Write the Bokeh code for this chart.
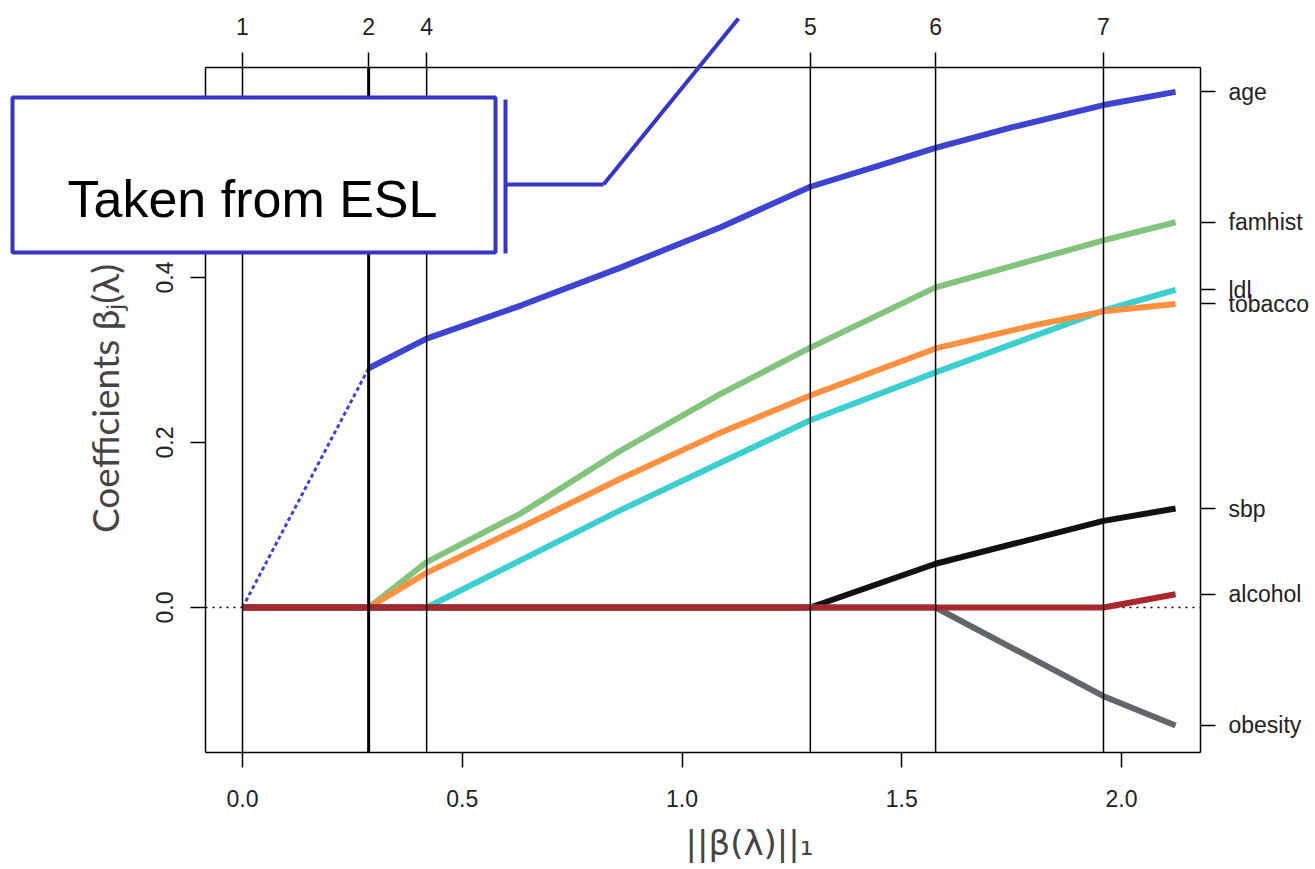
import math
from bokeh.plotting import figure
from bokeh.models import (Range1d, LinearAxis, FixedTicker, BoxAnnotation,
                          Label, Arrow, NumeralTickFormatter, ColumnDataSource)
from bokeh.embed import file_html
from bokeh.resources import INLINE

# ---------------- data ----------------
knots = [0.0, 0.287, 0.419, 1.292, 1.577, 1.959]
knot_labels = ["1", "2", "4", "5", "6", "7"]
x_ticks = [0.0, 0.5, 1.0, 1.5, 2.0]
y_ticks = [0.0, 0.2, 0.4, 0.6]

age_x = [0.0, 0.287, 0.419, 0.633, 0.860, 1.088, 1.292, 1.45, 1.577, 1.75, 1.959, 2.123]
age_y = [0.0, 0.290, 0.326, 0.366, 0.412, 0.461, 0.510, 0.536, 0.557, 0.582, 0.609, 0.625]

famhist_x = [0.0, 0.287, 0.419, 0.633, 0.860, 1.088, 1.292, 1.577, 1.959, 2.123]
famhist_y = [0.0, 0.0, 0.055, 0.114, 0.190, 0.259, 0.315, 0.388, 0.445, 0.467]

ldl_x = [0.0, 0.419, 0.860, 1.292, 1.577, 1.959, 2.123]
ldl_y = [0.0, 0.0, 0.118, 0.227, 0.285, 0.360, 0.385]

tobacco_x = [0.0, 0.287, 0.419, 0.633, 0.860, 1.088, 1.292, 1.577, 1.8, 1.959, 2.123]
tobacco_y = [0.0, 0.0, 0.042, 0.097, 0.156, 0.212, 0.257, 0.314, 0.342, 0.359, 0.368]

sbp_x = [0.0, 1.292, 1.577, 1.959, 2.123]
sbp_y = [0.0, 0.0, 0.053, 0.105, 0.120]

obesity_x = [0.0, 1.577, 1.959, 2.123]
obesity_y = [0.0, 0.0, -0.1075, -0.143]

alcohol_x = [0.0, 1.959, 2.123]
alcohol_y = [0.0, 0.0, 0.016]

names = ["age", "famhist", "ldl", "tobacco", "sbp", "obesity", "alcohol"]
colors = ["#3d44d1", "#82c47c", "#3ccfcf", "#ff9040", "#111111", "#62666a", "#a8282d"]
xs = [age_x, famhist_x, ldl_x, tobacco_x, sbp_x, obesity_x, alcohol_x]
ys = [age_y, famhist_y, ldl_y, tobacco_y, sbp_y, obesity_y, alcohol_y]

# ---------------- layout ----------------
W, H = 1315, 869
BOX_L, BOX_R, BOX_T, BOX_B = 205, 1200, 67, 752   # plot box in page pixels
X_PX0, X_PX_PER = 242.0, 439.5                    # pixel of x=0, pixels per unit
Y_PX0, Y_PX_PER = 607.0, 825.0                    # pixel of y=0, pixels per unit


def px2x(px):
    return (px - X_PX0) / X_PX_PER


def py2y(py):
    return (Y_PX0 - py) / Y_PX_PER


xl, xr = px2x(BOX_L), px2x(BOX_R)
yb, yt = py2y(BOX_B), py2y(BOX_T)

# the frame covers the whole page; axes are pinned to the plot box
p = figure(width=W, height=H,
           x_range=Range1d(px2x(0), px2x(W)),
           y_range=Range1d(py2y(H), py2y(0)),
           output_backend="svg", toolbar_location=None, min_border=0)
p.title.visible = False
p.xgrid.visible = False
p.ygrid.visible = False
p.outline_line_color = None
p.background_fill_color = "white"
p.border_fill_color = "white"

TICK_FONT = "Liberation Sans"


def style_axis(ax, standoff):
    ax.axis_line_color = "black"
    ax.axis_line_width = 1.5
    ax.major_tick_line_color = "black"
    ax.major_tick_line_width = 1.5
    ax.major_tick_out = 15
    ax.major_tick_in = 0
    ax.minor_tick_line_color = None
    ax.major_label_text_font = TICK_FONT
    ax.major_label_text_font_size = "23px"
    ax.major_label_text_color = "#222222"
    ax.major_label_standoff = standoff


# bottom axis
xa = p.xaxis[0]
xa.ticker = FixedTicker(ticks=x_ticks)
xa.formatter = NumeralTickFormatter(format="0.0")
xa.fixed_location = yb
xa.bounds = (xl, xr)
style_axis(xa, 22)

# left axis
ya = p.yaxis[0]
ya.ticker = FixedTicker(ticks=y_ticks)
ya.formatter = NumeralTickFormatter(format="0.0")
ya.major_label_orientation = "parallel"
ya.fixed_location = xl
ya.bounds = (yb, yt)
style_axis(ya, 18)

# top axis: number of non-zero coefficients
top = LinearAxis(ticker=FixedTicker(ticks=knots),
                 major_label_overrides={k: l for k, l in zip(knots, knot_labels)},
                 fixed_location=yt, bounds=(xl, xr))
style_axis(top, 18)
p.add_layout(top, "above")

# right axis: variable names at final coefficient values
end_vals = [y[-1] for y in ys]
right = LinearAxis(ticker=FixedTicker(ticks=end_vals),
                   major_label_overrides={v: n for v, n in zip(end_vals, names)},
                   fixed_location=xr, bounds=(yb, yt))
style_axis(right, 13)
p.add_layout(right, "right")

# zero reference line (dotted)
p.line([xl, xr], [0, 0], line_color="black", line_width=1.5, line_dash="2 5")

# coefficient paths
for n, x, y, c in zip(names, xs, ys, colors):
    if n == "age":
        p.line(x[:2], y[:2], line_color=c, line_width=3, line_dash="4 3")
        p.line(x[1:], y[1:], line_color=c, line_width=6)
    else:
        p.line(x, y, line_color=c, line_width=6)

# vertical lines at knots
ksrc = ColumnDataSource(dict(x=knots, y0=[yb] * len(knots), y1=[yt] * len(knots),
                             w=[3 if i == 1 else 1.5 for i in range(len(knots))]))
p.segment(x0="x", y0="y0", x1="x", y1="y1", line_width="w", line_color="black",
          source=ksrc)

# axis titles
p.add_layout(Label(x=px2x(749), y=py2y(842), text="||β(λ)||₁",
                   text_align="center", text_baseline="middle",
                   text_font="DejaVu Sans", text_font_size="34px",
                   text_color="#444444"))
p.add_layout(Label(x=px2x(104), y=py2y(398), text="Coefficients βⱼ(λ)",
                   angle=math.pi / 2, text_align="center", text_baseline="middle",
                   text_font="Lato", text_font_size="37px",
                   text_color="#444444"))

# callout
BLUE = "#3535c8"
p.add_layout(BoxAnnotation(left=px2x(12), right=px2x(495), top=py2y(97), bottom=py2y(252),
                           fill_color="white", fill_alpha=1.0, line_color=BLUE,
                           line_width=4, line_alpha=1.0, level="overlay"))
p.add_layout(Label(x=px2x(252), y=py2y(198), text="Taken from ESL",
                   text_align="center", text_baseline="alphabetic",
                   text_font="Liberation Sans", text_font_size="52px",
                   text_color="black", level="overlay"))
for (x0, y0, x1, y1) in [(505, 99, 505, 253), (505, 184, 603, 184), (603, 184, 738, 18)]:
    p.add_layout(Arrow(end=None, x_start=px2x(x0), y_start=py2y(y0),
                       x_end=px2x(x1), y_end=py2y(y1),
                       line_color=BLUE, line_width=4, level="overlay"))

open("out.html", "w").write(file_html(p, INLINE))
